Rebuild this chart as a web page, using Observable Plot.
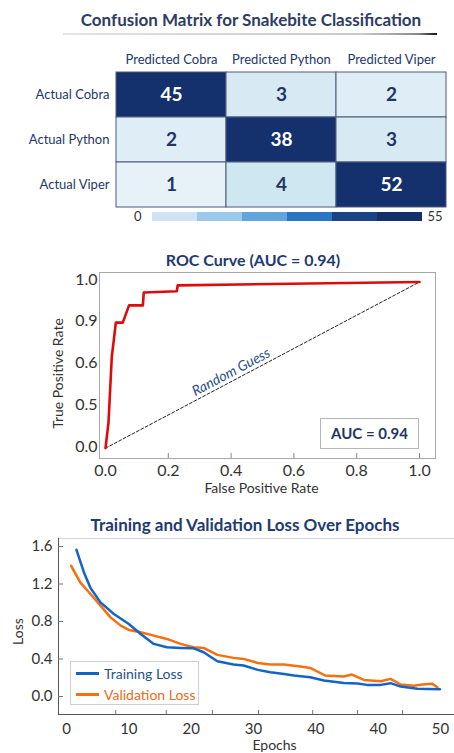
<!DOCTYPE html>
<html>
<head>
<meta charset="utf-8">
<script src="https://cdn.jsdelivr.net/npm/d3@7"></script>
<script src="https://cdn.jsdelivr.net/npm/@observablehq/plot@0.6"></script>
<style>
  html, body { margin: 0; padding: 0; background: #fff; }
  #root { position: relative; width: 454px; height: 753px; overflow: hidden; background: #fff; font-family: Lato, "Open Sans", sans-serif; }
  .title { position: absolute; transform: translateX(-50%); white-space: nowrap; font-weight: bold; font-size: 16px; line-height: 20px; }
  .abs { position: absolute; }
  svg { background: transparent !important; }
</style>
</head>
<body>
<div id="root">
  <div class="title" id="t1" style="left:251px; top:10px; font-size:17px; color:#2e3c66;">Confusion Matrix for Snakebite Classification</div>
  <div class="abs" style="left:63px; top:33px; width:374px; height:2px; background:linear-gradient(to right, #e4e4e4, #c8c8c8 80%, #888 95%, #111);"></div>
  <div class="abs" id="cm" style="left:0; top:40px;"></div>
  <div class="abs" id="cbar" style="left:0; top:205px;"></div>
  <div class="title" id="t2" style="left:253px; top:250px; color:#1e3a72;">ROC Curve (AUC = 0.94)</div>
  <div class="abs" id="roc" style="left:0; top:265px;"></div>
  <div class="abs" id="aucbox" style="left:320px; top:418px; width:97px; height:29px; border:1px solid #b5b5b5; background:#fff; color:#1e3566; font-weight:bold; font-size:15px; line-height:29px; text-align:center;">AUC = 0.94</div>
  <div class="title" id="t3" style="left:245px; top:515px; font-size:17px; color:#1e3a72;">Training and Validation Loss Over Epochs</div>
  <div class="abs" id="loss" style="left:0; top:530px;"></div>
  <div class="abs" id="legend" style="left:70px; top:661px; width:127px; height:42px; border:1px solid #cfcfcf; background:#fff; font-size:14px;">
    <div class="abs" style="left:5px; top:10px; width:23px; height:3px; background:#1463c7;"></div>
    <div class="abs" style="left:33px; top:2px; line-height:20px; color:#24508f;">Training Loss</div>
    <div class="abs" style="left:5px; top:31px; width:23px; height:3px; background:#f5700f;"></div>
    <div class="abs" style="left:33px; top:23px; line-height:20px; color:#ec6a1a;">Validation Loss</div>
  </div>
</div>
<script>
// ---------- Confusion matrix data ----------
const predictedLabels = ["Predicted Cobra", "Predicted Python", "Predicted Viper"];
const actualLabels = ["Actual Cobra", "Actual Python", "Actual Viper"];
const matrixValues = [
  [45, 3, 2],
  [2, 38, 3],
  [1, 4, 52]
];
const colorbarColors = ["#cfe3f4", "#9cc8ec", "#63a4db", "#2b73c3", "#1a4386", "#13306a"];
const colorbarLabels = ["0", "55"];

// ---------- ROC data ----------
const rocFPR = [0, 0.0096, 0.02, 0.033, 0.055, 0.075, 0.119, 0.122, 0.227, 0.23, 1.0];
const rocTPR = [-0.02, 0.29, 0.643, 0.89, 0.89, 0.938, 0.938, 0.969, 0.972, 0.986, 0.994];
const diagFPR = [0, 1.0];
const diagTPR = [-0.02, 0.994];
const rocXTicks = [0, 0.2, 0.4, 0.6, 0.8, 1.0];
const rocYTicks = [0, 0.5, 0.6, 0.9, 1.0];
const randomGuessLabel = {x: 0.40, y: 0.578, text: "Random Guess"};

// ---------- Loss data ----------
const trainEpochs = [1.6, 2.8, 3.85, 5.45, 7.6, 10, 11.9, 14, 16.1, 18.3, 20.4, 22, 24.2, 26.8, 28.4, 30.7, 32.7, 34.9, 36.5, 39.1, 41.3, 44.5, 46.7, 48.2, 50.4, 52, 53.6, 56.3, 59.9];
const trainLoss = [1.565, 1.323, 1.157, 1.004, 0.880, 0.773, 0.667, 0.561, 0.525, 0.518, 0.514, 0.472, 0.376, 0.341, 0.330, 0.284, 0.259, 0.241, 0.224, 0.206, 0.170, 0.145, 0.138, 0.124, 0.124, 0.142, 0.106, 0.082, 0.078];
const valEpochs = [0.75, 2.2, 3.85, 5.45, 7.06, 8.7, 10, 11.9, 14, 16.1, 18.3, 20.4, 22, 24.2, 26.8, 28.4, 30.7, 32.7, 34.9, 37.5, 39.1, 41.5, 44.5, 45.8, 47.7, 50.4, 52, 53.6, 55.7, 57.1, 58.7, 59.5];
const valLoss = [1.394, 1.217, 1.093, 0.969, 0.844, 0.756, 0.710, 0.685, 0.649, 0.614, 0.561, 0.525, 0.518, 0.444, 0.412, 0.401, 0.358, 0.341, 0.341, 0.319, 0.305, 0.224, 0.213, 0.234, 0.177, 0.163, 0.188, 0.128, 0.114, 0.128, 0.135, 0.099];
const lossXTicks = [0, 10, 20, 30, 40, 50, 60];
const lossXTickLabels = ["0", "10", "20", "30", "40", "40", "50"];
const lossXMinorTicks = [7.9, 16, 23.4, 30.8, 39.5, 46.7, 53.9];
const lossYTicks = [0, 0.4, 0.8, 1.2, 1.6];

const font = "Lato, 'Open Sans', sans-serif";

// ---------- Confusion matrix ----------
const cells = [];
actualLabels.forEach((a, i) => predictedLabels.forEach((p, j) => cells.push({actual: a, pred: p, value: matrixValues[i][j]})));

const cm = Plot.plot({
  width: 454, height: 170,
  marginLeft: 115, marginRight: 8, marginTop: 32, marginBottom: 3,
  style: {fontFamily: font, fontSize: "13px", color: "#22376a", background: "transparent"},
  x: {domain: predictedLabels, axis: "top", tickSize: 0, tickPadding: 9, label: null, padding: 0},
  y: {domain: actualLabels, tickSize: 0, tickPadding: 6, label: null, padding: 0},
  color: {type: "linear", domain: [0, 4, 30, 55], range: ["#eef4fa", "#cfe7f1", "#15316d", "#15316d"]},
  marks: [
    Plot.cell(cells, {x: "pred", y: "actual", fill: "value", inset: 0, stroke: "#4d5b78", strokeWidth: 1}),
    Plot.text(cells.filter(d => d.value > 20), {x: "pred", y: "actual", text: "value", fill: "white", fontSize: 19, fontWeight: "bold"}),
    Plot.text(cells.filter(d => d.value <= 20), {x: "pred", y: "actual", text: "value", fill: "#1f3566", fontSize: 19, fontWeight: "bold"})
  ]
});
document.getElementById("cm").appendChild(cm);

// ---------- Colorbar ----------
const cbar = Plot.plot({
  width: 454, height: 22,
  marginLeft: 151, marginRight: 32, marginTop: 7, marginBottom: 6,
  style: {fontFamily: font, fontSize: "13px", color: "#333", background: "transparent"},
  x: {domain: d3.range(colorbarColors.length), axis: null, padding: 0},
  y: {axis: null},
  marks: [
    Plot.cell(colorbarColors, {x: (d, i) => i, fill: d => d, inset: 0}),
    Plot.text([colorbarLabels[0]], {frameAnchor: "left", textAnchor: "end", lineAnchor: "middle", dx: -10, text: d => d, fill: "#333", fontSize: 13}),
    Plot.text([colorbarLabels[1]], {frameAnchor: "right", textAnchor: "start", lineAnchor: "middle", dx: 5, text: d => d, fill: "#333", fontSize: 13})
  ]
});
document.getElementById("cbar").appendChild(cbar);

// ---------- ROC ----------
const rocData = rocFPR.map((x, i) => ({x, y: rocTPR[i]}));
const diagData = diagFPR.map((x, i) => ({x, y: diagTPR[i]}));
const roc = Plot.plot({
  width: 454, height: 232,
  marginLeft: 99, marginRight: 19, marginTop: 7, marginBottom: 39,
  style: {fontFamily: font, fontSize: "16px", color: "#333", background: "transparent"},
  x: {type: "linear", domain: [0, 1], insetLeft: 6, insetRight: 16},
  y: {type: "linear", domain: rocYTicks, insetTop: 7, insetBottom: 12},
  marks: [
    Plot.frame({stroke: "#a8a8a8"}),
    Plot.axisX({ticks: rocXTicks, tickFormat: ".1f", tickSize: 0, tickPadding: 6, label: null}),
    Plot.ruleX(rocXTicks.slice(1), {x: d => d, stroke: "#888", insetTop: 181}),
    Plot.axisY({ticks: rocYTicks, tickFormat: ".1f", tickSize: 0, tickPadding: 2, label: null}),
    Plot.line(diagData, {x: "x", y: "y", stroke: "#222", strokeWidth: 1, strokeDasharray: "3,2"}),
    Plot.text([randomGuessLabel], {x: "x", y: "y", text: "text", rotate: -28, fontStyle: "italic", fill: "#2a4f8a", fontSize: 14}),
    Plot.line(rocData, {x: "x", y: "y", stroke: "#e00a0a", strokeWidth: 2.6, strokeLinejoin: "round"}),
    Plot.text(["False Positive Rate"], {frameAnchor: "bottom", textAnchor: "middle", lineAnchor: "middle", dy: 30, dx: -6, text: d => d, fill: "#333", fontSize: 14}),
    Plot.text(["True Positive Rate"], {frameAnchor: "left", textAnchor: "middle", lineAnchor: "middle", dx: -41, dy: 8, rotate: -90, text: d => d, fill: "#333", fontSize: 14})
  ]
});
document.getElementById("roc").appendChild(roc);

// ---------- Loss ----------
const trainData = trainEpochs.map((x, i) => ({x, y: trainLoss[i]}));
const valData = valEpochs.map((x, i) => ({x, y: valLoss[i]}));
const loss = Plot.plot({
  width: 454, height: 223,
  marginLeft: 58, marginRight: 0, marginTop: 8, marginBottom: 39,
  style: {fontFamily: font, fontSize: "15px", color: "#333", background: "transparent"},
  x: {domain: [0, 60], insetLeft: 8, insetRight: 14},
  y: {domain: [0, 1.6], insetTop: 8, insetBottom: 18},
  marks: [
    Plot.frame({anchor: "top", stroke: "#d8d8d8"}),
    Plot.frame({anchor: "left", stroke: "#555"}),
    Plot.frame({anchor: "bottom", stroke: "#555"}),
    Plot.axisX({ticks: lossXTicks, tickFormat: (d, i) => lossXTickLabels[i], tickSize: 0, tickPadding: 9, label: null}),
    Plot.ruleX(lossXMinorTicks, {x: d => d, stroke: "#777", insetTop: 172}),
    Plot.axisY({ticks: lossYTicks, tickFormat: ".1f", tickSize: 0, tickPadding: 6, label: null}),
    Plot.ruleY(lossYTicks, {y: d => d, stroke: "#777", insetRight: 391}),
    Plot.line(valData, {x: "x", y: "y", stroke: "#f5700f", strokeWidth: 2.5, strokeLinejoin: "round"}),
    Plot.line(trainData, {x: "x", y: "y", stroke: "#1463c7", strokeWidth: 2.5, strokeLinejoin: "round"}),
    Plot.text(["Epochs"], {frameAnchor: "bottom", textAnchor: "middle", lineAnchor: "middle", dy: 31, dx: 18, text: d => d, fill: "#333", fontSize: 14}),
    Plot.text(["Loss"], {frameAnchor: "left", textAnchor: "middle", lineAnchor: "middle", dx: -40, dy: 5, rotate: -90, text: d => d, fill: "#333", fontSize: 14})
  ]
});
document.getElementById("loss").appendChild(loss);
</script>
</body>
</html>
